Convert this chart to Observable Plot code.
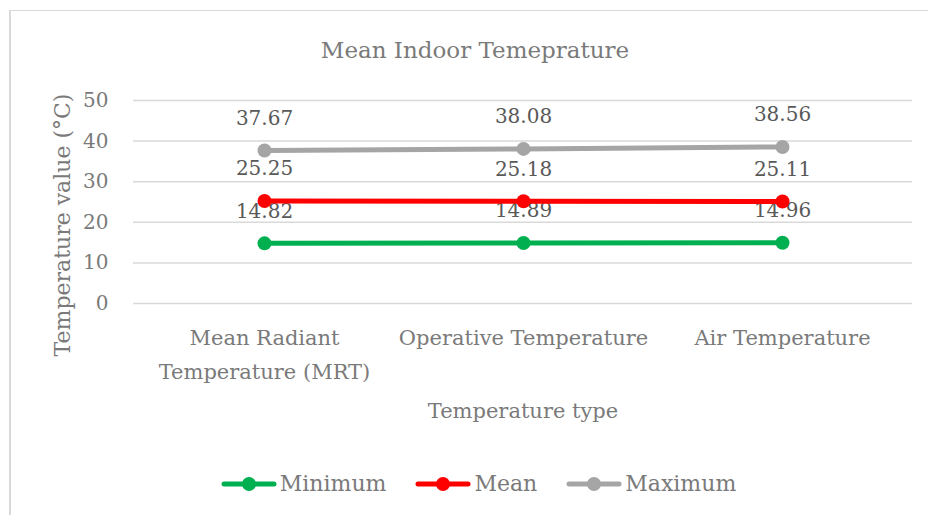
<!DOCTYPE html>
<html>
<head>
<meta charset="utf-8">
<script src="https://cdn.jsdelivr.net/npm/d3@7"></script>
<script src="https://cdn.jsdelivr.net/npm/@observablehq/plot@0.6"></script>
<style>
  html, body { margin: 0; padding: 0; background: #fff; }
  #wrap { position: relative; width: 928px; height: 515px; overflow: hidden; font-family: "DejaVu Serif", serif; }
  #border { position: absolute; left: 9px; top: 10px; right: -5px; bottom: -5px; border-top: 1px solid #d9d9d9; border-left: 2px solid #d9d9d9; }
  #title { position: absolute; left: 0; top: 32px; width: 950px; text-align: center; font-size: 23px; color: #7a7a7a; line-height: 36px; }
  #plot { position: absolute; left: 0; top: 80px; }
  #legend { position: absolute; left: 0; top: 468px; width: 928px; box-sizing: border-box; padding-left: 29px; display: flex; justify-content: center; align-items: center; font-size: 22px; color: #7a7a7a; line-height: 32px; }
  #legend .item { display: flex; align-items: center; margin: 0 14.5px; }
  #legend svg { margin-right: 3px; }
</style>
</head>
<body>
<div id="wrap">
  <div id="border"></div>
  <div id="title">Mean Indoor Temeprature</div>
  <div id="plot"></div>
  <div id="legend"></div>
</div>
<script>
const categories = ["Mean Radiant Temperature (MRT)", "Operative Temperature", "Air Temperature"];
const tickLabels = ["Mean Radiant\nTemperature (MRT)", "Operative Temperature", "Air Temperature"];
const seriesNames = ["Minimum", "Mean", "Maximum"];
const seriesColors = ["#00b050", "#ff0000", "#a5a5a5"];
const minimum = [14.82, 14.89, 14.96];
const mean = [25.25, 25.18, 25.11];
const maximum = [37.67, 38.08, 38.56];
const yTicks = [0, 10, 20, 30, 40, 50];
const yLabel = "Temperature value (°C)";
const xLabel = "Temperature type";

const seriesValues = [minimum, mean, maximum];
const rows = [];
seriesNames.forEach((s, i) => {
  categories.forEach((c, j) => rows.push({series: s, category: c, value: seriesValues[i][j]}));
});
const tickRows = categories.map((c, i) => ({category: c, label: tickLabels[i]}));

const chart = Plot.plot({
  width: 928,
  height: 360,
  marginTop: 20,
  marginBottom: 137,
  marginLeft: 133,
  marginRight: 16,
  style: { fontFamily: "DejaVu Serif, serif", background: "transparent", overflow: "visible" },
  x: { type: "point", domain: categories, padding: 0.5, axis: null },
  y: { domain: [0, 50], ticks: yTicks, axis: null },
  color: { domain: seriesNames, range: seriesColors },
  marks: [
    Plot.gridY(yTicks, { stroke: "#d9d9d9", strokeOpacity: 1, strokeWidth: 1.5 }),
    Plot.axisY(yTicks, { tickSize: 0, tickPadding: 25, fontSize: 20, fill: "#7a7a7a", label: null }),
    Plot.text(tickRows, { x: "category", text: "label", frameAnchor: "bottom", dy: 17, lineAnchor: "top", lineHeight: 1.62, fontSize: 21, fill: "#7a7a7a" }),
    Plot.text([yLabel], { frameAnchor: "left", dx: -71, dy: 23, rotate: -90, textAnchor: "middle", text: d => d, fontSize: 22, fill: "#7a7a7a" }),
    Plot.text([xLabel], { frameAnchor: "bottom", dy: 114, text: d => d, fontSize: 21, fill: "#7a7a7a" }),
    Plot.text(rows, { x: "category", y: "value", text: d => d.value.toFixed(2), dy: -32, fontSize: 20, fill: "#595959" }),
    Plot.line(rows, { x: "category", y: "value", z: "series", stroke: "series", strokeWidth: 5, strokeLinecap: "round" }),
    Plot.dot(rows, { x: "category", y: "value", fill: "series", r: 7 })
  ]
});
document.getElementById("plot").appendChild(chart);

const legend = document.getElementById("legend");
seriesNames.forEach((s, i) => {
  const item = document.createElement("div");
  item.className = "item";
  item.innerHTML = `<svg width="56" height="20"><line x1="3" y1="10" x2="53" y2="10" stroke="${seriesColors[i]}" stroke-width="5" stroke-linecap="round"/><circle cx="28" cy="10" r="7" fill="${seriesColors[i]}"/></svg><span>${s}</span>`;
  legend.appendChild(item);
});
</script>
</body>
</html>
